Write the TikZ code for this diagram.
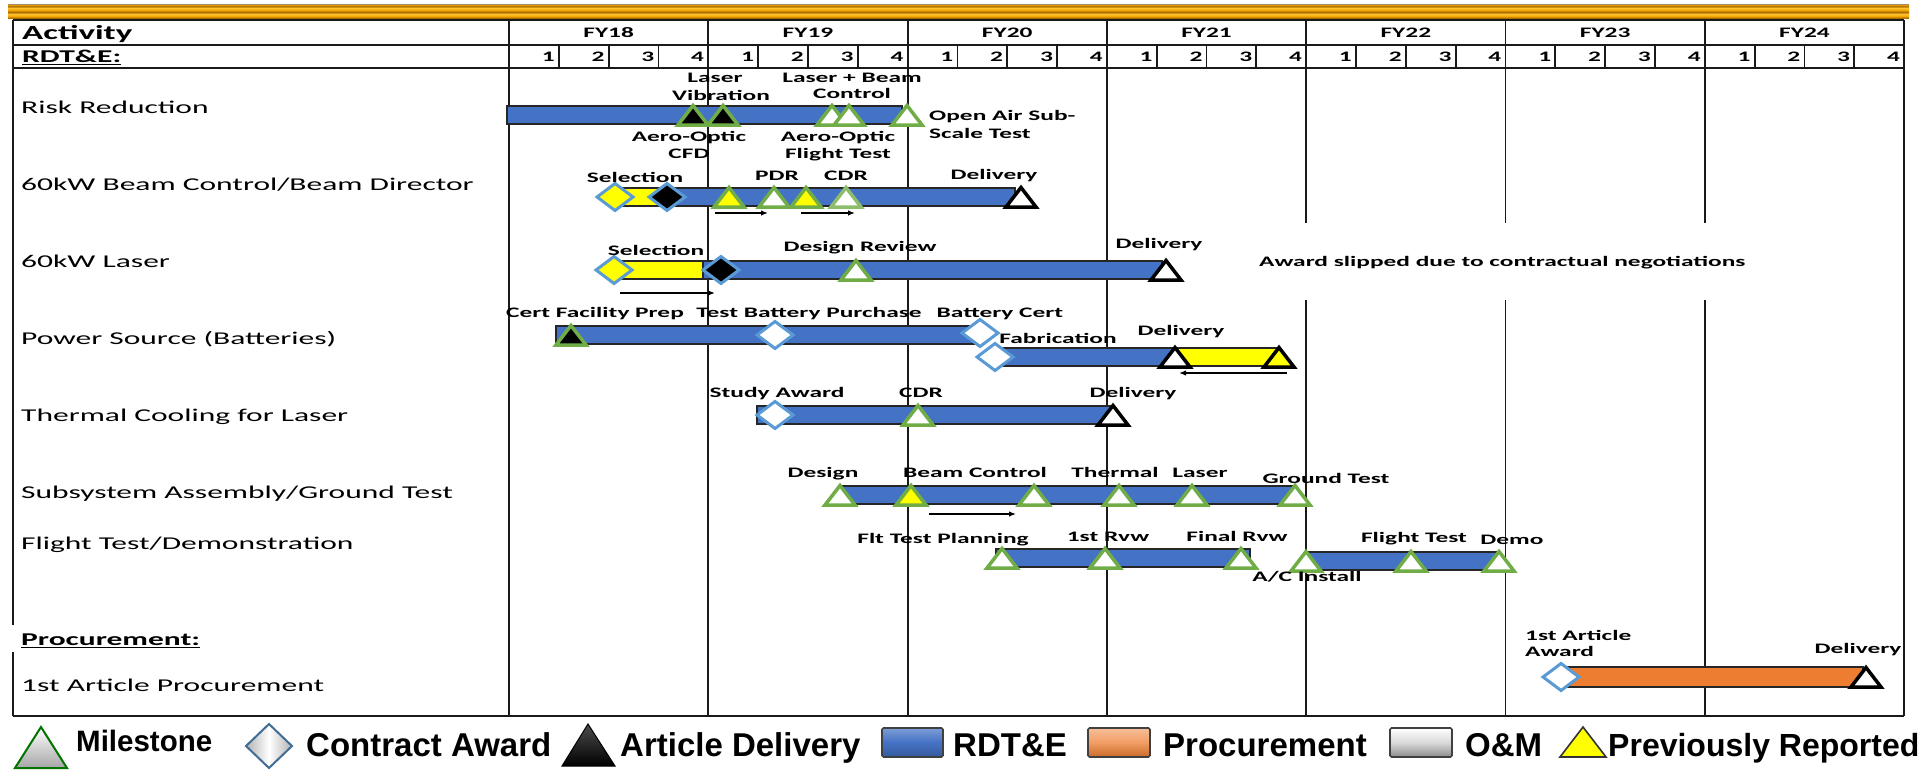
\documentclass[tikz,border=0pt]{standalone}
\usepackage{fontspec}
\setmainfont{Carlito}
\newfontfamily\tabfont[FakeStretch=1.75]{Carlito}
\newfontfamily\legfont{Liberation Sans}
\usetikzlibrary{arrows.meta}

\definecolor{barblue}{HTML}{4472C4}
\definecolor{baryellow}{HTML}{FFFF00}
\definecolor{barorange}{HTML}{ED7D31}
\definecolor{msgreen}{HTML}{70AD47}
\definecolor{awblue}{HTML}{5B9BD5}
\definecolor{gridline}{HTML}{1A1A1A}
\definecolor{gA}{HTML}{9C8A6A}
\definecolor{gB}{HTML}{F0A400}
\definecolor{gC}{HTML}{A86A00}
\definecolor{gD}{HTML}{FFC530}

% metallic gold band across the top
\pgfdeclareverticalshading{goldband}{100bp}{color(0bp)=(gC); color(25bp)=(gC);
  color(31bp)=(gB); color(39bp)=(gD); color(46bp)=(gC); color(53bp)=(gB);
  color(61bp)=(gD); color(67bp)=(gC); color(72bp)=(gB); color(75bp)=(gA); color(100bp)=(gA)}

\tikzset{
  pics/mtri/.style 2 args={code={%
    \draw[line width=3.5pt,draw=#1,fill=#2,line join=miter] (-15,10) -- (0,-9.5) -- (15,10) -- cycle;}},
  pics/mdia/.style={code={%
    \draw[line width=3pt,draw=awblue,fill=#1] (-18,0) -- (0,-13.5) -- (18,0) -- (0,13.5) -- cycle;}},
}

\begin{document}
\begin{tikzpicture}[x=1pt,y=-1pt,
  gridln/.style={draw=gridline,line width=1.8pt},
  bar/.style={draw=black!85,line width=1.8pt},
  lab/.style={font=\tabfont\bfseries\fontsize{14.5}{17.5}\selectfont,inner sep=0pt,
    text height=9.3pt,text depth=0pt},
  rowlbl/.style={font=\tabfont\fontsize{18}{21}\selectfont,anchor=west,inner sep=0pt,
    text height=11.6pt,text depth=0pt},
  headlbl/.style={font=\tabfont\bfseries\fontsize{18}{21}\selectfont,anchor=west,inner sep=0pt,
    text height=11.6pt,text depth=0pt},
  arr/.style={line width=1.3pt,-{Latex[length=7pt,width=5.5pt]}},
  legtext/.style={font=\legfont\bfseries\fontsize{33}{36}\selectfont,anchor=base west,inner sep=0pt},
  legbox/.style={draw=black!75,line width=1.6pt,rounded corners=1.5pt},
]
\useasboundingbox (0,0) rectangle (1925,771);

% ---------- top band ----------
\shade[shading=goldband] (8,4) rectangle (1909,18);

% ---------- table grid ----------
\draw[gridln] (13,20) -- (1904,20);
\draw[gridln] (13,45) -- (1904,45);
\draw[gridln] (13,68) -- (1904,68);
\draw[gridln] (13,716) -- (1904,716);
\draw[gridln] (13,20) -- (13,625) (13,652) -- (13,716);
\foreach \k in {0,1,2,3,7}
  \draw[gridln] ({509+199.3*\k},20) -- ({509+199.3*\k},716);
\foreach \k in {4,5,6}
  \draw[gridln] ({509+199.3*\k},20) -- ({509+199.3*\k},223)
                ({509+199.3*\k},300) -- ({509+199.3*\k},716);
\foreach \k in {0,...,6}
  \foreach \j in {1,2,3}
    \draw[gridln] ({509+199.3*\k+49.825*\j},45) -- ({509+199.3*\k+49.825*\j},68);

% ---------- header ----------
\node[font=\tabfont\bfseries\fontsize{20}{24}\selectfont,anchor=west,inner sep=0pt,
  text height=12.9pt,text depth=0pt] (hact) at (22,33) {Activity};
\node[headlbl] (hrdte) at (22,57) {\underline{RDT\&E:}};
\foreach \k/\fy in {0/18,1/19,2/20,3/21,4/22,5/23,6/24}
  \node[lab] (fy\fy) at ({509+199.3*\k+99.65},33) {FY\fy};
\foreach \k in {0,...,6}
  \foreach \j in {1,...,4}
    \node[lab,anchor=east] (q\k\j) at ({509+199.3*\k+49.825*\j-4},57) {\j};

% ---------- activity names ----------
\node[rowlbl] (r1) at (21,108) {Risk Reduction};
\node[rowlbl] (r2) at (21,185) {60kW Beam Control/Beam Director};
\node[rowlbl] (r3) at (21,262) {60kW Laser};
\node[rowlbl] (r4) at (21,339) {Power Source (Batteries)};
\node[rowlbl] (r5) at (21,416) {Thermal Cooling for Laser};
\node[rowlbl] (r6) at (21,493) {Subsystem Assembly/Ground Test};
\node[rowlbl] (r7) at (21,544) {Flight Test/Demonstration};
\node[headlbl] (hproc) at (21,640) {\underline{Procurement:}};
\node[rowlbl] (r8) at (21,686) {1st Article Procurement};

% ---------- bars ----------
\draw[bar,fill=barblue] (507,106) rectangle (902,124);
\draw[bar,fill=baryellow] (615,188) rectangle (667,206);
\draw[bar,fill=barblue] (667,188) rectangle (1015,206);
\draw[bar,fill=baryellow] (614,261) rectangle (703,279);
\draw[bar,fill=barblue] (703,261) rectangle (1162,279);
\draw[bar,fill=barblue] (556,326) rectangle (982,344);
\draw[bar,fill=barblue] (995,348) rectangle (1175,366);
\draw[bar,fill=baryellow] (1175,348) rectangle (1279,366);
\draw[bar,fill=barblue] (757,406) rectangle (1112,424);
\draw[bar,fill=barblue] (842,486) rectangle (1293,504);
\draw[bar,fill=barblue] (996,549) rectangle (1250,567);
\draw[bar,fill=barblue] (1306,552) rectangle (1500,570);
\draw[bar,fill=barorange] (1562,667) rectangle (1863,687);

% ---------- schedule arrows ----------
\coordinate (a1s) at (715,213); \coordinate (a1e) at (768,213);
\coordinate (a2s) at (801,213); \coordinate (a2e) at (855,213);
\coordinate (a3s) at (620,293); \coordinate (a3e) at (715,293);
\coordinate (a4s) at (1287,373); \coordinate (a4e) at (1179,373);
\coordinate (a5s) at (929,514); \coordinate (a5e) at (1016,514);
\draw[arr] (a1s) -- (a1e);
\draw[arr] (a2s) -- (a2e);
\draw[arr] (a3s) -- (a3e);
\draw[arr] (a4s) -- (a4e);
\draw[arr] (a5s) -- (a5e);

% ---------- markers ----------
% Risk Reduction
\pic at (693,115) {mtri={msgreen}{black}};
\pic at (723,115) {mtri={msgreen}{black}};
\pic at (832,115) {mtri={msgreen}{white}};
\pic at (849,115) {mtri={msgreen}{white}};
\pic at (907,115) {mtri={msgreen}{white}};
% Beam Control / Beam Director
\pic at (615,197) {mdia=baryellow};
\pic at (667,197) {mdia=black};
\pic at (729,197) {mtri={msgreen}{baryellow}};
\pic at (774,197) {mtri={msgreen}{white}};
\pic at (806,197) {mtri={msgreen}{baryellow}};
\pic at (846,197) {mtri={msgreen!80!white}{white}};
\pic at (1021,197) {mtri={black}{white}};
% Laser
\pic at (614,270) {mdia=baryellow};
\pic at (721,270) {mdia=black};
\pic at (856,270) {mtri={msgreen}{white}};
\pic at (1166,270) {mtri={black}{white}};
% Power Source
\pic at (571,335) {mtri={msgreen}{black}};
\pic at (775,335) {mdia=white};
\pic at (980,333) {mdia=white};
\pic at (995,357) {mdia=white};
\pic at (1175,357) {mtri={black}{white}};
\pic at (1279,357) {mtri={black}{baryellow}};
% Thermal Cooling
\pic at (775,415) {mdia=white};
\pic at (918,415) {mtri={msgreen}{white}};
\pic at (1113,415) {mtri={black}{white}};
% Subsystem Assembly / Ground Test
\pic at (840,495) {mtri={msgreen}{white}};
\pic at (911,495) {mtri={msgreen}{baryellow}};
\pic at (1034,495) {mtri={msgreen}{white}};
\pic at (1119,495) {mtri={msgreen}{white}};
\pic at (1192,495) {mtri={msgreen}{white}};
\pic at (1295,495) {mtri={msgreen}{white}};
% Flight Test / Demonstration
\pic at (1002,558) {mtri={msgreen}{white}};
\pic at (1105,558) {mtri={msgreen}{white}};
\pic at (1241,558) {mtri={msgreen}{white}};
\pic at (1306,561) {mtri={msgreen}{white}};
\pic at (1411,561) {mtri={msgreen}{white}};
\pic at (1499,561) {mtri={msgreen}{white}};
% 1st Article Procurement
\pic at (1561,677) {mdia=white};
\pic at (1866,677) {mtri={black}{white}};

% ---------- milestone labels ----------
\node[lab] (l11a) at (715,78) {Laser};
\node[lab] (l11b) at (721,96) {Vibration};
\node[lab] (l12a) at (852,78) {Laser + Beam};
\node[lab] (l12b) at (852,94) {Control};
\node[lab] (l13a) at (689,137) {Aero-Optic};
\node[lab] (l13b) at (689,154) {CFD};
\node[lab] (l14a) at (838,137) {Aero-Optic};
\node[lab] (l14b) at (838,154) {Flight Test};
\node[lab,anchor=west] (l15a) at (929,116) {Open Air Sub-};
\node[lab,anchor=west] (l15b) at (929,134) {Scale Test};

\node[lab] (l21) at (635,178) {Selection};
\node[lab] (l22) at (777,176) {PDR};
\node[lab] (l23) at (846,176) {CDR};
\node[lab] (l24) at (994,175) {Delivery};

\node[lab] (l31) at (656,251) {Selection};
\node[lab] (l32) at (860,247) {Design Review};
\node[lab] (l33) at (1159,244) {Delivery};
\node[lab,anchor=west] (l34) at (1259,262) {Award slipped due to contractual negotiations};

\node[lab] (l41) at (595,313) {Cert Facility Prep};
\node[lab] (l42) at (809,313) {Test Battery Purchase};
\node[lab] (l43) at (1000,313) {Battery Cert};
\node[lab] (l44) at (1058,339) {Fabrication};
\node[lab] (l45) at (1181,331) {Delivery};

\node[lab] (l51) at (777,393) {Study Award};
\node[lab] (l52) at (921,393) {CDR};
\node[lab] (l53) at (1133,393) {Delivery};

\node[lab] (l61) at (823,473) {Design};
\node[lab] (l62) at (975,473) {Beam Control};
\node[lab] (l63) at (1115,473) {Thermal};
\node[lab] (l64) at (1200,473) {Laser};
\node[lab] (l65) at (1326,479) {Ground Test};

\node[lab] (l71) at (943,539) {Flt Test Planning};
\node[lab] (l72) at (1108,537) {1st Rvw};
\node[lab] (l73) at (1237,537) {Final Rvw};
\node[lab] (l74) at (1307,577) {A/C Install};
\node[lab] (l75) at (1414,538) {Flight Test};
\node[lab] (l76) at (1512,540) {Demo};

\node[lab,anchor=west] (l81a) at (1525,636) {1st Article};
\node[lab,anchor=west] (l81b) at (1525,652) {Award};
\node[lab] (l82) at (1858,649) {Delivery};

% ---------- legend ----------
\draw[draw=green!45!black,line width=2pt,top color=white,bottom color=black!35]
  (15,768) -- (41,727) -- (67,768) -- cycle;
\node[legtext,font=\legfont\bfseries\fontsize{29.5}{32}\selectfont] (kms) at (76,751) {Milestone};
\draw[draw=awblue!70!black,line width=2pt,left color=black!30,right color=black!30,middle color=white]
  (246,746) -- (269,724) -- (292,746) -- (269,768) -- cycle;
\node[legtext] (kca) at (306,756) {Contract Award};
\draw[draw=black,line width=1pt,top color=black!70,bottom color=black]
  (562,766) -- (588,724) -- (615,766) -- cycle;
\node[legtext] (kad) at (620,756) {Article Delivery};
\draw[legbox,top color=barblue!70!white,bottom color=barblue!80!black,middle color=barblue] (882,728) rectangle (943,757);
\node[legtext] (krd) at (953,756) {RDT\&E};
\draw[legbox,top color=barorange!50!white,bottom color=barorange!85!black,middle color=barorange!75!white] (1088,728) rectangle (1150,757);
\node[legtext] (kpr) at (1163,756) {Procurement};
\draw[legbox,top color=white,bottom color=black!45,middle color=black!15] (1390,728) rectangle (1452,757);
\node[legtext] (kom) at (1465,756) {O\&M};
\draw[draw=black!80,line width=1.6pt,fill=baryellow] (1560,757) -- (1583,727) -- (1606,757) -- cycle;
\node[legtext,font=\legfont\bfseries\fontsize{32}{36}\selectfont] (kpv) at (1608,756) {Previously Reported};
\end{tikzpicture}
\end{document}
